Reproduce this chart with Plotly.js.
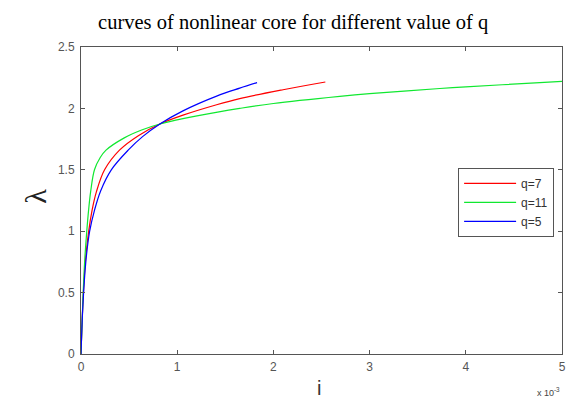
<!DOCTYPE html>
<html>
<head>
<meta charset="utf-8">
<script src="https://cdn.plot.ly/plotly-3.0.1.min.js"></script>
<style>html,body{margin:0;padding:0;background:#fff;}#chart{width:567px;height:403px;}</style>
</head>
<body>
<div id="chart"></div>
<script>
// current i in units of 1e-3, flux linkage lambda
const i_q7  = [0, 0.02, 0.045, 0.08, 0.115, 0.16, 0.245, 0.40, 0.60, 0.82, 1.06, 1.41, 1.65, 2.10, 2.54];
const l_q7  = [0, 0.42, 0.75, 1.0, 1.17, 1.32, 1.5, 1.66, 1.78, 1.873, 1.945, 2.03, 2.08, 2.152, 2.215];
const i_q11 = [0, 0.02, 0.04, 0.06, 0.08, 0.10, 0.14, 0.20, 0.26, 0.45, 0.63, 0.82, 1.06, 1.42, 1.65, 2.0, 2.69, 3.0, 3.73, 4.0, 4.77, 5.0];
const l_q11 = [0, 0.45, 0.78, 1.0, 1.18, 1.32, 1.5, 1.6, 1.66, 1.76, 1.824, 1.873, 1.917, 1.97, 2.0, 2.04, 2.098, 2.12, 2.162, 2.175, 2.21, 2.22];
const i_q5  = [0, 0.02, 0.05, 0.09, 0.14, 0.205, 0.315, 0.49, 0.64, 0.82, 1.06, 1.41, 1.65, 1.83];
const l_q5  = [0, 0.4, 0.75, 1.0, 1.17, 1.33, 1.5, 1.66, 1.77, 1.873, 1.98, 2.10, 2.165, 2.21];
const seriesNames = ['q=7', 'q=11', 'q=5'];
const xTicks = [0, 1, 2, 3, 4, 5];
const yTicks = [0, 0.5, 1, 1.5, 2, 2.5];
const yTickText = ['0', '0.5', '1', '1.5', '2', '2.5'];

const traces = [
  {x: i_q7, y: l_q7, name: seriesNames[0], mode: 'lines', line: {color: '#ff0000', width: 1.2, shape: 'spline'}},
  {x: i_q11, y: l_q11, name: seriesNames[1], mode: 'lines', line: {color: '#10e830', width: 1.2, shape: 'spline'}},
  {x: i_q5, y: l_q5, name: seriesNames[2], mode: 'lines', line: {color: '#0000ff', width: 1.2, shape: 'spline'}}
];

const axisCommon = {
  showline: true, mirror: 'ticks', linecolor: '#555', linewidth: 1,
  ticks: 'inside', ticklen: 4, tickcolor: '#555', showgrid: false, zeroline: false,
  tickfont: {family: 'Liberation Sans, Arial, sans-serif', size: 12, color: '#555'}
};

const layout = {
  width: 567, height: 403,
  paper_bgcolor: '#ffffff', plot_bgcolor: '#ffffff',
  margin: {l: 81, r: 5, t: 47, b: 49},
  title: {text: 'curves of nonlinear core for different value of q',
          font: {family: 'Liberation Serif, Times New Roman, serif', size: 20.5, color: '#000'},
          x: 0.517, xanchor: 'center', y: 0.945, yanchor: 'middle'},
  xaxis: Object.assign({}, axisCommon, {range: [0, 5], tickvals: xTicks, ticktext: xTicks.map(String), ticklabelstandoff: 2}),
  yaxis: Object.assign({}, axisCommon, {range: [0, 2.5], tickvals: yTicks, ticktext: yTickText, ticklabelstandoff: 3}),
  showlegend: true,
  legend: {x: 0.784, y: 0.606, xanchor: 'left', yanchor: 'top', bgcolor: '#fff',
           bordercolor: '#555', borderwidth: 1, tracegroupgap: 0,
           itemwidth: 52,
           font: {family: 'Liberation Sans, Arial, sans-serif', size: 12, color: '#333'}},
  annotations: [
    {text: 'λ', xref: 'paper', yref: 'paper', x: -0.0936, y: 0.515, xanchor: 'center', yanchor: 'middle',
     showarrow: false, textangle: -90, font: {family: 'Liberation Serif, serif', size: 30, color: '#222'}},
    {text: 'i', xref: 'paper', yref: 'paper', x: 0.495, y: -0.11, xanchor: 'center', yanchor: 'middle',
     showarrow: false, font: {family: 'Liberation Sans, Arial, sans-serif', size: 20, color: '#333'}},
    {text: 'x 10<sup>-3</sup>', xref: 'paper', yref: 'paper', x: 1.0, y: -0.125, xanchor: 'right', yanchor: 'middle',
     showarrow: false, font: {family: 'Liberation Sans, Arial, sans-serif', size: 9, color: '#444'}}
  ]
};

Plotly.newPlot('chart', traces, layout, {staticPlot: true, displayModeBar: false});
</script>
</body>
</html>
